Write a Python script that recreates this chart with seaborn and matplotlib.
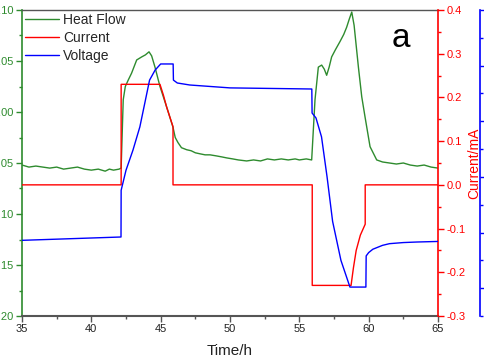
import matplotlib
matplotlib.use("Agg")
import matplotlib.pyplot as plt
import seaborn as sns
import numpy as np
import pandas as pd
from matplotlib.ticker import MultipleLocator, FormatStrFormatter
from matplotlib.lines import Line2D

# ---- data ----
heat_t = [35.0, 35.5, 36.0, 36.5, 37.0, 37.5, 38.0, 38.5, 39.0, 39.5, 40.0, 40.5, 41.0, 41.3, 41.6, 42.0,
          42.15, 42.3, 42.45, 42.65, 42.9, 43.27, 43.63, 43.9, 44.16, 44.35, 44.59, 44.95, 45.43, 45.89,
          46.05, 46.25, 46.5, 46.88, 47.2, 47.5, 47.84, 48.2, 48.56, 49.0, 49.4, 49.76, 50.2, 50.6, 51.2,
          51.7, 52.2, 52.7, 53.2, 53.7, 54.2, 54.7, 55.0, 55.5, 55.89, 56.13, 56.37, 56.61, 56.8, 56.97,
          57.15, 57.33, 57.6, 57.93, 58.2, 58.41, 58.6, 58.78, 58.95, 59.26, 59.5, 59.74, 60.1, 60.58,
          61.0, 61.5, 62.0, 62.5, 63.0, 63.5, 64.0, 64.5, 65.0]
heat_v = [-0.052, -0.054, -0.053, -0.054, -0.055, -0.054, -0.056, -0.055, -0.054, -0.056, -0.057, -0.056,
          -0.058, -0.056, -0.057, -0.056, -0.055, 0.012, 0.025, 0.031, 0.038, 0.051, 0.054, 0.056, 0.059,
          0.055, 0.044, 0.025, 0.005, -0.015, -0.025, -0.030, -0.035, -0.037, -0.038, -0.040, -0.041,
          -0.042, -0.042, -0.043, -0.044, -0.045, -0.046, -0.047, -0.048, -0.047, -0.048, -0.046, -0.047,
          -0.046, -0.047, -0.046, -0.047, -0.046, -0.047, 0.012, 0.044, 0.046, 0.042, 0.036, 0.044, 0.054,
          0.061, 0.069, 0.076, 0.083, 0.091, 0.098, 0.085, 0.044, 0.015, -0.005, -0.034, -0.047, -0.049,
          -0.050, -0.051, -0.050, -0.052, -0.053, -0.052, -0.054, -0.055]

curr_t = [35.0, 42.15, 42.15, 44.95, 45.2, 45.43, 45.89, 45.89, 55.93, 55.93, 58.73, 58.9, 59.1, 59.4, 59.75, 59.75, 65.0]
curr_v = [0.0, 0.0, 0.23, 0.23, 0.205, 0.178, 0.133, 0.0, 0.0, -0.23, -0.23, -0.19, -0.15, -0.115, -0.09, 0.0, 0.0]

volt_t = [35.0, 42.14, 42.15, 42.5, 43.0, 43.5, 44.2, 44.6, 45.0, 45.9, 45.92, 46.2, 47.1, 50.0, 55.9,
          55.92, 56.2, 56.6, 57.0, 57.4, 58.0, 58.65, 59.8, 59.82, 60.0, 60.3, 60.6, 61.0, 61.5, 62.5,
          63.5, 65.0]
volt_v = [2.43, 2.46, 2.88, 3.06, 3.24, 3.45, 3.87, 3.96, 4.015, 4.015, 3.87, 3.844, 3.826, 3.80, 3.79,
          3.574, 3.53, 3.36, 3.00, 2.60, 2.25, 2.01, 2.01, 2.29, 2.32, 2.35, 2.365, 2.385, 2.40, 2.41,
          2.415, 2.42]

GREEN = "#2e8b2e"
RED = "#ff0000"
BLUE = "#0000ff"

sns.set_style("ticks")
plt.rcParams["font.family"] = ["Liberation Sans", "DejaVu Sans"]

fig = plt.figure(figsize=(4.85, 3.6), dpi=100)
ax = fig.add_axes([22/485, 1-316/360, 416/485, 306/360])
ax2 = ax.twinx()
ax3 = ax.twinx()

df_h = pd.DataFrame({"t": heat_t, "v": heat_v})
df_c = pd.DataFrame({"t": curr_t, "v": curr_v})
df_v = pd.DataFrame({"t": volt_t, "v": volt_v})

sns.lineplot(data=df_h, x="t", y="v", ax=ax, color=GREEN, lw=1.0, estimator=None, sort=False, legend=False)
sns.lineplot(data=df_c, x="t", y="v", ax=ax2, color=RED, lw=1.0, estimator=None, sort=False, legend=False)
sns.lineplot(data=df_v, x="t", y="v", ax=ax3, color=BLUE, lw=1.0, estimator=None, sort=False, legend=False)

ax.set_xlim(35, 65)
ax.set_ylim(-0.20, 0.10)
ax2.set_ylim(-0.3, 0.4)
ax3.set_ylim(1.75, 4.5)

ax.xaxis.set_major_locator(MultipleLocator(5))
ax.xaxis.set_minor_locator(MultipleLocator(2.5))
ax.yaxis.set_major_locator(MultipleLocator(0.05))
ax.yaxis.set_minor_locator(MultipleLocator(0.025))
ax.yaxis.set_major_formatter(FormatStrFormatter("%.2f"))
ax2.yaxis.set_major_locator(MultipleLocator(0.1))
ax2.yaxis.set_minor_locator(MultipleLocator(0.05))
ax2.yaxis.set_major_formatter(FormatStrFormatter("%.1f"))
ax3.yaxis.set_major_locator(MultipleLocator(0.5))
ax3.yaxis.set_minor_locator(MultipleLocator(0.25))

ax.set_xlabel("Time/h", fontsize=11, color="#222222", labelpad=7)
ax.set_ylabel("Heat Flow/mW", fontsize=10, color=GREEN)
ax2.set_ylabel("Current/mA", fontsize=10, color=RED, labelpad=1)
ax3.set_ylabel("Voltage/V", fontsize=10, color=BLUE)

for a in (ax, ax2, ax3):
    for s in a.spines.values():
        s.set_visible(False)

ax.spines["bottom"].set_visible(True)
ax.spines["bottom"].set_color("#555555")
ax.spines["bottom"].set_linewidth(1.5)
ax.spines["top"].set_visible(True)
ax.spines["top"].set_color("#555555")
ax.spines["top"].set_linewidth(1.0)
ax.spines["left"].set_visible(True)
ax.spines["left"].set_color(GREEN)
ax.spines["left"].set_linewidth(1.2)
ax2.spines["right"].set_visible(True)
ax2.spines["right"].set_color(RED)
ax2.spines["right"].set_linewidth(1.2)
ax3.spines["right"].set_visible(True)
ax3.spines["right"].set_color(BLUE)
ax3.spines["right"].set_linewidth(1.2)
ax3.spines["right"].set_position(("axes", 1.101))

ax.tick_params(axis="x", which="major", direction="out", length=4, width=1, colors="#555555",
               labelsize=8, labelcolor="#222222", pad=2)
ax.tick_params(axis="x", which="minor", direction="out", length=2, width=1, colors="#555555")
ax.tick_params(axis="y", which="major", direction="out", length=4, width=1, colors=GREEN, labelsize=8, pad=2)
ax.tick_params(axis="y", which="minor", direction="out", length=2, width=1, colors=GREEN)
ax2.tick_params(axis="y", which="major", direction="out", length=4, width=1, colors=RED, labelsize=8, pad=2)
ax2.tick_params(axis="y", which="minor", direction="out", length=2, width=1, colors=RED)
ax3.tick_params(axis="y", which="major", direction="out", length=4, width=1, colors=BLUE, labelsize=8, pad=2)
ax3.tick_params(axis="y", which="minor", direction="out", length=2, width=1, colors=BLUE)

handles = [Line2D([], [], color=GREEN, lw=1.0),
           Line2D([], [], color=RED, lw=1.0),
           Line2D([], [], color=BLUE, lw=1.0)]
ax3.legend(handles, ["Heat Flow", "Current", "Voltage"], loc="upper left", bbox_to_anchor=(0.0, 1.0),
           frameon=False, fontsize=10, handlelength=2.45, handletextpad=0.3, labelspacing=0.3,
           borderaxespad=0.1, borderpad=0.1)

ax3.text(0.911, 0.908, "a", transform=ax.transAxes, fontsize=24, ha="center", va="center", color="black")

fig.savefig("out.png", dpi=100)
